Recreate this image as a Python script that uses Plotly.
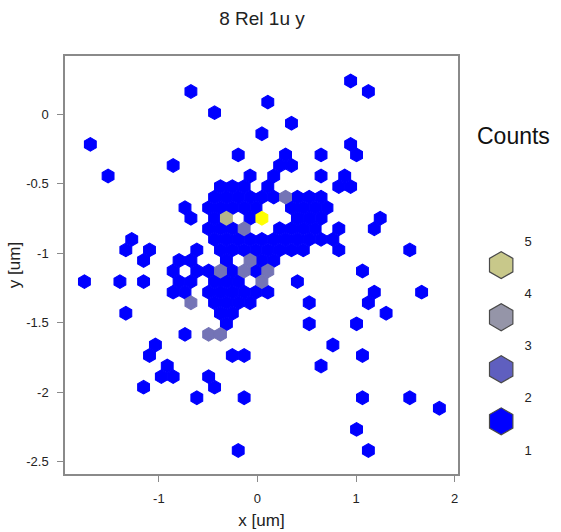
import plotly.graph_objects as go

# ---- hexbin cells (centres in data units) and their counts ----
hex_x = [
    0.945,
    -0.675, 1.125,
    0.105,
    -0.435,
    0.345,
    0.045,
    -1.695, 0.945,
    -0.195, 0.285, 0.645, 1.005,
    -0.855, 0.225, 0.345,
    -1.515, -0.075, 0.165, 0.645, 0.885,
    -0.375, -0.255, -0.135, 0.105, 0.825, 0.945,
    -0.435, -0.315, -0.195, -0.075, 0.045, 0.165, 0.285, 0.405, 0.525, 0.645,
    -0.735, -0.495, -0.375, -0.255, -0.135, -0.015, 0.345, 0.465, 0.585, 0.705,
    -0.675, -0.435, -0.315, -0.075, 0.045, 0.405, 0.525, 0.645, 1.245,
    -0.495, -0.375, -0.255, -0.135, 0.225, 0.345, 0.465, 0.585, 0.825, 1.185,
    -1.275, -0.435, -0.315, -0.195, -0.075, 0.045, 0.165, 0.285, 0.405, 0.525, 0.645, 0.765,
    -1.335, -1.095, -0.615, -0.375, -0.255, -0.135, -0.015, 0.105, 0.225, 0.345, 0.465, 0.825, 1.545,
    -1.155, -0.795, -0.675, -0.315, -0.075, 0.045, 0.165,
    -0.855, -0.615, -0.495, -0.375, -0.255, -0.135, -0.015, 0.105, 1.065,
    -1.755, -1.395, -1.155, -0.795, -0.675, -0.435, -0.315, -0.195, 0.045, 0.405,
    -0.855, -0.735, -0.495, -0.375, -0.255, -0.135, -0.015, 0.105, 1.185, 1.665,
    -0.675, -0.435, -0.315, -0.195, -0.075, 0.525, 1.125,
    -1.335, -0.375, -0.255, 1.305,
    -0.315, 0.525, 1.005,
    -0.735, -0.495, -0.375,
    -1.035, 0.765,
    -1.095, -0.255, -0.135, 1.065,
    -0.915, 0.645,
    -0.975, -0.855, -0.495,
    -1.155, -0.435,
    -0.615, -0.135, 1.065, 1.545,
    1.845,
    1.005,
    -0.195, 1.125,
]

hex_y = (
    [0.240] * 1 + [0.164] * 2 + [0.088] * 1 + [0.012] * 1 + [-0.064] * 1 + [-0.140] * 1
    + [-0.216] * 2 + [-0.292] * 4 + [-0.368] * 3 + [-0.444] * 5 + [-0.520] * 6
    + [-0.596] * 10 + [-0.672] * 10 + [-0.748] * 9 + [-0.824] * 10 + [-0.900] * 12
    + [-0.976] * 13 + [-1.052] * 7 + [-1.128] * 9 + [-1.204] * 10 + [-1.280] * 10
    + [-1.356] * 7 + [-1.432] * 4 + [-1.508] * 3 + [-1.584] * 3 + [-1.660] * 2
    + [-1.736] * 4 + [-1.812] * 2 + [-1.888] * 3 + [-1.964] * 2 + [-2.040] * 4
    + [-2.116] * 1 + [-2.268] * 1 + [-2.420] * 2
)

hex_n = [
    1,
    1, 1,
    1,
    1,
    1,
    1,
    1, 1,
    1, 1, 1, 1,
    1, 1, 1,
    1, 1, 1, 1, 1,
    1, 1, 1, 1, 1, 1,
    1, 1, 1, 1, 1, 1, 2, 1, 1, 1,
    1, 1, 1, 1, 1, 1, 1, 1, 1, 1,
    1, 1, 4, 1, 5, 1, 1, 1, 1,
    1, 1, 1, 2, 1, 1, 1, 1, 1, 1,
    1, 1, 1, 1, 1, 1, 1, 1, 1, 1, 1, 1,
    1, 1, 1, 1, 1, 1, 1, 1, 1, 1, 1, 1, 1,
    1, 1, 1, 1, 2, 1, 1,
    1, 1, 1, 2, 1, 2, 1, 2, 1,
    1, 1, 1, 1, 1, 1, 1, 1, 2, 1,
    1, 1, 1, 1, 1, 1, 1, 1, 1, 1,
    2, 1, 1, 1, 1, 1, 1,
    1, 1, 1, 1,
    1, 1, 1,
    1, 2, 2,
    1, 1,
    1, 1, 1, 1,
    1, 1,
    1, 1, 1,
    1, 1,
    1, 1, 1, 1,
    1,
    1,
    1, 1,
]

count_colors = {1: "#0000FF", 2: "#7474B6", 3: "#9696A8", 4: "#B5B58C", 5: "#FFFF00"}

# legend (colour key)
legend_levels = [1, 2, 3, 4]
legend_colors = ["#0000FF", "#5F5FBF", "#9595A8", "#C8C88A"]
legend_ticks = [1, 2, 3, 4, 5]

x_ticks = [-1, 0, 1, 2]
x_ticktext = ["-1", "0", "1", "2"]
y_ticks = [0, -0.5, -1, -1.5, -2, -2.5]
y_ticktext = ["0", "-0.5", "-1", "-1.5", "-2", "-2.5"]

FONT = "Liberation Sans, Arial, Helvetica, sans-serif"
AXC = "#8a8a8a"

fig = go.Figure()
for c in sorted(set(hex_n)):
    xs = [x for x, n in zip(hex_x, hex_n) if n == c]
    ys = [y for y, n in zip(hex_y, hex_n) if n == c]
    col = count_colors[c]
    fig.add_trace(go.Scatter(
        x=xs, y=ys, mode="markers", xaxis="x", yaxis="y",
        marker=dict(symbol="hexagon", size=13.6, color=col,
                    line=dict(color=col, width=1.1)),
        showlegend=False, hoverinfo="skip",
    ))

fig.add_trace(go.Scatter(
    x=[0] * len(legend_levels), y=[lv + 0.55 for lv in legend_levels],
    xaxis="x2", yaxis="y2", mode="markers",
    marker=dict(symbol="hexagon", size=27, color=legend_colors,
                line=dict(color="#4a4a4a", width=1.2)),
    showlegend=False, hoverinfo="skip",
))

axis_common = dict(
    showgrid=False, zeroline=False, showline=True, linecolor=AXC, linewidth=1.5,
    mirror=True, ticks="outside", ticklen=6, tickcolor=AXC, tickwidth=1.2,
    automargin=False,
    tickfont=dict(size=13, color="#222222", family=FONT),
)

fig.update_layout(
    width=561, height=532,
    margin=dict(l=65, r=10, t=56, b=58),
    paper_bgcolor="white", plot_bgcolor="white",
    font=dict(family=FONT, color="#222222"),
    title=dict(text="8 Rel 1u y", x=0.4053, xref="paper", xanchor="center",
               y=1 - 18 / 532, yref="container", yanchor="middle",
               font=dict(size=19, color="#222222", family=FONT)),
    xaxis=dict(domain=[0, 393 / 486], range=[-1.952, 2.034],
               tickvals=x_ticks, ticktext=x_ticktext, ticklabelstandoff=6,
               title=dict(text="x [um]", font=dict(size=17, family=FONT), standoff=9),
               **axis_common),
    yaxis=dict(domain=[0, 1], range=[-2.589, 0.42],
               tickvals=y_ticks, ticktext=y_ticktext, ticklabelstandoff=6,
               title=dict(text="y [um]", font=dict(size=17, family=FONT), standoff=1),
               **axis_common),
    xaxis2=dict(domain=[0.87, 0.925], range=[-1, 1], anchor="y2", visible=False),
    yaxis2=dict(domain=[0, 1], range=[0.539, 8.566], anchor="x2", side="right",
                tickvals=legend_ticks, ticktext=[str(t) for t in legend_ticks],
                showgrid=False, zeroline=False, showline=False, ticks="",
                ticklabelstandoff=9, automargin=False,
                tickfont=dict(size=13, color="#222222", family=FONT)),
    annotations=[dict(text="Counts", xref="paper", yref="paper", x=0.9224, y=0.808,
                      xanchor="center", yanchor="middle", showarrow=False,
                      font=dict(size=23, color="#111111", family=FONT))],
)

fig.write_html("out.html")
